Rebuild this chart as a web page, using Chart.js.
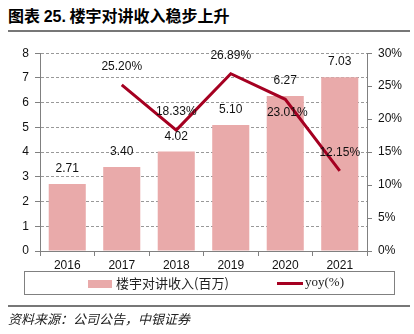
<!DOCTYPE html>
<html>
<head>
<meta charset="utf-8">
<script src="https://cdn.jsdelivr.net/npm/chart.js@4/dist/chart.umd.min.js"></script>
<style>
  body { margin: 0; background: #fff; width: 414px; height: 334px; position: relative; overflow: hidden; }
  #title { position: absolute; left: 8px; top: 3px; font: bold 16px "Noto Sans CJK SC", sans-serif; color: #000; white-space: nowrap; }
  #title .num { font-family: "Liberation Sans", Arial, sans-serif; }
  .rule { position: absolute; left: 8px; width: 402px; height: 2px; background: #777; }
  #wrap { position: absolute; left: 0; top: 40px; width: 414px; height: 232px; }
  #legend { position: absolute; left: 24px; top: 271px; width: 369px; height: 22px; border: 1px solid #808080; }
  .sw { position: absolute; }
  .lt { position: absolute; top: 2px; font-size: 13px; color: #222; white-space: nowrap; }
  #source { position: absolute; left: 8px; top: 309px; font: italic 13px "Noto Sans CJK SC", sans-serif; color: #222; white-space: nowrap; }
</style>
</head>
<body>
<div id="title">图表 <span class="num">25.</span> 楼宇对讲收入稳步上升</div>
<div class="rule" style="top:30px"></div>
<div id="wrap"><canvas id="chart"></canvas></div>
<div id="legend">
  <div class="sw" style="left:63px;top:8px;width:24px;height:8px;background:#E9AAAA"></div>
  <div class="lt" style="left:91px;font-family:'Noto Sans CJK SC',sans-serif;top:1px">楼宇对讲收入(百万)</div>
  <div class="sw" style="left:252px;top:10px;width:26px;height:3px;background:#A50021"></div>
  <div class="lt" style="left:280px;font-family:'Liberation Serif',serif">yoy(%)</div>
</div>
<div class="rule" style="top:305px"></div>
<div id="source">资料来源：公司公告，中银证券</div>
<script>
const years = ["2016", "2017", "2018", "2019", "2020", "2021"];
const revenue = [2.71, 3.40, 4.02, 5.10, 6.27, 7.03];
const yoy = [null, 25.20, 18.33, 26.89, 23.01, 12.15];

const numFont = "'Liberation Sans', Arial, sans-serif";
const axisGray = "#808080";

/* value labels above bars and line points */
const valueLabels = {
  id: "valueLabels",
  afterDatasetsDraw(chart) {
    const ctx = chart.ctx;
    ctx.save();
    ctx.font = "12px " + numFont;
    ctx.fillStyle = "#111";
    ctx.textAlign = "center";
    ctx.textBaseline = "middle";
    chart.getDatasetMeta(1).data.forEach((el, i) => {
      ctx.fillText(revenue[i].toFixed(2), el.x, el.y - 15);
    });
    chart.getDatasetMeta(0).data.forEach((el, i) => {
      if (yoy[i] === null) return;
      const below = i === 4; /* 2020 label sits under the point */
      ctx.fillText(yoy[i].toFixed(2) + "%", el.x + (below ? 2 : 0), below ? el.y + 13 : el.y - 18);
    });
    ctx.restore();
  },
};

new Chart(document.getElementById("chart"), {
  data: {
    labels: years,
    datasets: [
      {
        type: "line",
        label: "yoy(%)",
        data: yoy,
        yAxisID: "y1",
        borderColor: "#A50021",
        borderWidth: 3,
        pointRadius: 0,
        tension: 0,
        order: 1,
      },
      {
        type: "bar",
        label: "楼宇对讲收入(百万)",
        data: revenue,
        yAxisID: "y",
        backgroundColor: "#E9AAAA",
        barPercentage: 0.68,
        categoryPercentage: 1,
        order: 2,
      },
    ],
  },
  options: {
    responsive: true,
    maintainAspectRatio: false,
    animation: false,
    layout: { padding: { top: 13, left: 0, right: 0, bottom: 0 } },
    plugins: { legend: { display: false }, tooltip: { enabled: false } },
    scales: {
      x: {
        afterFit: (s) => { s.height = 21; },
        grid: { drawOnChartArea: false, drawTicks: true, tickLength: 5, color: axisGray, offset: true },
        border: { color: axisGray, width: 1 },
        ticks: { color: "#111", padding: 2, font: { family: numFont, size: 12 } },
      },
      y: {
        position: "left",
        min: 0,
        max: 8,
        afterFit: (s) => { s.width = 40; },
        ticks: { stepSize: 1, color: "#111", padding: 6, font: { family: numFont, size: 12 } },
        grid: { color: "#999", tickColor: axisGray, tickLength: 5, tickBorderDash: [] },
        border: { color: axisGray, width: 1, dash: [3, 2] },
      },
      y1: {
        position: "right",
        min: 0,
        max: 30,
        afterFit: (s) => { s.width = 47; },
        ticks: { stepSize: 5, color: "#111", padding: 6, font: { family: numFont, size: 12 }, callback: (v) => v + "%" },
        grid: { drawOnChartArea: false, tickColor: axisGray, tickLength: 5 },
        border: { color: axisGray, width: 1 },
      },
    },
  },
  plugins: [valueLabels],
});
</script>
</body>
</html>
